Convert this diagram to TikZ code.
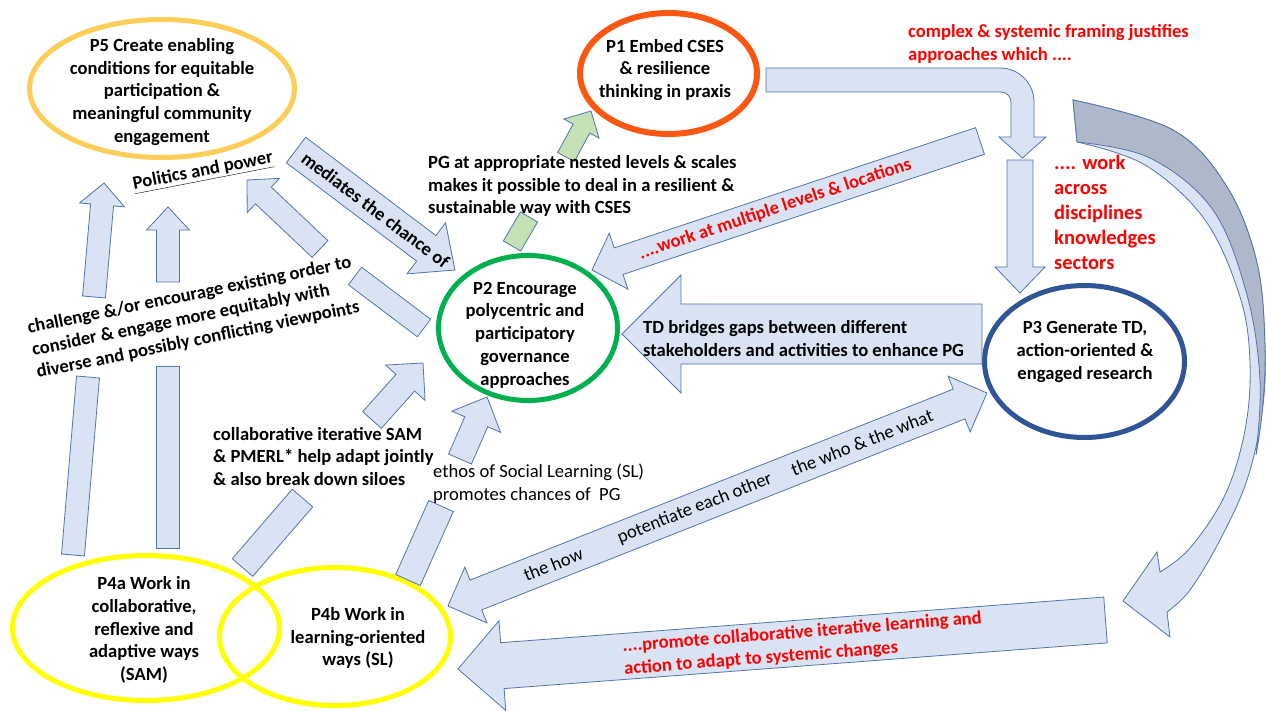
\documentclass[tikz,border=0pt]{standalone}
\usepackage{fontspec}
\setmainfont{Carlito}
\usetikzlibrary{calc,shapes.geometric}

\definecolor{arrowfill}{RGB}{218,227,243}
\definecolor{arrowline}{RGB}{84,116,172}
\definecolor{leafgreen}{RGB}{197,224,180}
\definecolor{slate}{RGB}{173,185,202}
\definecolor{pfive}{RGB}{252,206,88}
\definecolor{pone}{RGB}{250,88,18}
\definecolor{ptwo}{RGB}{0,176,80}
\definecolor{pthree}{RGB}{47,85,151}
\definecolor{pfour}{RGB}{255,255,0}
\definecolor{redtext}{RGB}{255,0,0}

% block arrow: [style]{start}{tip}{half body width}{half head width}{head length}
\newcommand\blockarrow[6][]{%
  \coordinate (bah) at ($(#3)!#6pt!(#2)$);
  \filldraw[blockshape,#1] ($(#2)!#4pt!90:(#3)$) -- ($(bah)!#4pt!90:(#3)$)
    -- ($(bah)!#5pt!90:(#3)$) -- (#3) -- ($(bah)!#5pt!-90:(#3)$)
    -- ($(bah)!#4pt!-90:(#3)$) -- ($(#2)!#4pt!-90:(#3)$) -- cycle;}
% plain bar piece of a broken block arrow: [style]{start}{end}{half width}
\newcommand\blockbar[4][]{%
  \filldraw[blockshape,#1] ($(#2)!#4pt!90:(#3)$) -- ($(#3)!#4pt!-90:(#2)$)
    -- ($(#3)!#4pt!90:(#2)$) -- ($(#2)!#4pt!-90:(#3)$) -- cycle;}

\begin{document}
\begin{tikzpicture}[x=1pt,y=-1pt,
  blockshape/.style={fill=arrowfill,draw=arrowline,line width=0.8pt,line join=miter},
  txt/.style={font=\fontsize{18.6}{22.7}\selectfont\bfseries,inner sep=0pt,align=center},
  plaintxt/.style={font=\fontsize{18.6}{22.7}\selectfont,inner sep=0pt,align=center},
  redtxt/.style={txt,text=redtext},
  ring/.style={ellipse,draw,inner sep=0pt,fill=none}]

\fill[white] (0,0) rectangle (1266,711);
\path[use as bounding box] (0,0) rectangle (1266,711);

% ---------- principle nodes ----------
\node[ring,draw=pfive,line width=5pt,minimum width=265,minimum height=138] (p5) at (162,88.5) {};
\node[ring,draw=pone,line width=6pt,minimum width=177,minimum height=121] (p1) at (668.5,73.5) {};
\node[ring,draw=ptwo,line width=5pt,minimum width=179,minimum height=145] (p2) at (528,328) {};
\node[ring,draw=pthree,line width=5pt,minimum width=200,minimum height=152] (p3) at (1084.5,361.5) {};
\node[ring,draw=pfour,line width=5pt,minimum width=267,minimum height=145] (p4a) at (146,628) {};
\node[ring,draw=pfour,line width=5pt,minimum width=231,minimum height=138] (p4b) at (335,636.5) {};

% ---------- arrow end points ----------
\coordinate (up1s) at (94,297);   \coordinate (up1t) at (104,183);
\coordinate (lo1s) at (73,555);   \coordinate (lo1t) at (88,377);
\coordinate (up2s) at (168,282);  \coordinate (up2t) at (168,207);
\coordinate (lo2s) at (168,548);  \coordinate (lo2t) at (168,366);
\coordinate (pols) at (320,249);  \coordinate (polt) at (247,180);
\coordinate (polbs) at (424,328); \coordinate (polbt) at (355,276);
\coordinate (meds) at (296,150);  \coordinate (medt) at (455,270);
\coordinate (grs) at (566,157);   \coordinate (grt) at (591,111);
\coordinate (grbs) at (512,246);  \coordinate (grbt) at (529,217);
\coordinate (dns) at (1020,160);  \coordinate (dnt) at (1020,293);
\coordinate (mls) at (980,141);   \coordinate (mlt) at (592,270);
\coordinate (tds) at (982,334);   \coordinate (tdt) at (622,334);
\coordinate (prs) at (1105.5,620);\coordinate (prt) at (458,669);
\coordinate (cos) at (372,420);   \coordinate (cot) at (423,363);
\coordinate (cobs) at (242.5,567.5); \coordinate (cobt) at (302.5,498);
\coordinate (ets) at (460,459);   \coordinate (ett) at (487,397);
\coordinate (etbs) at (408,580);  \coordinate (etbt) at (441,506);
\coordinate (howt) at (448,606);  \coordinate (whot) at (987,393);

% ---------- block arrows ----------
\blockarrow{up1s}{up1t}{11.5}{22.5}{22}
\blockbar{lo1s}{lo1t}{11.5}
\blockarrow{up2s}{up2t}{11.5}{21.5}{23}
\blockbar{lo2s}{lo2t}{11.5}
\blockarrow{pols}{polt}{11.5}{23.5}{22.5}
\blockbar{polbs}{polbt}{11}
\blockarrow{meds}{medt}{16}{32}{36}
\blockarrow[fill=leafgreen]{grs}{grt}{9.5}{20}{20}
\blockbar[fill=leafgreen]{grbs}{grbt}{10}
\blockarrow{dns}{dnt}{13}{25}{26}
\blockarrow{mls}{mlt}{14}{29.5}{28}
\blockarrow{tds}{tdt}{30}{59}{59}
\blockarrow{prs}{prt}{23}{45}{44.5}
\blockarrow{cos}{cot}{12.5}{26.5}{26.5}
\blockbar{cobs}{cobt}{13.5}
\blockarrow{ets}{ett}{12.5}{26.5}{27}
\blockbar{etbs}{etbt}{13.5}

% double-headed arrow between P4b and P3
\coordinate (hw1) at ($(howt)!30pt!(whot)$);
\coordinate (hw2) at ($(whot)!30pt!(howt)$);
\filldraw[blockshape] ($(hw1)!16pt!90:(whot)$) -- ($(hw2)!16pt!-90:(howt)$)
  -- ($(hw2)!30pt!-90:(howt)$) -- (whot) -- ($(hw2)!30pt!90:(howt)$)
  -- ($(hw2)!16pt!90:(howt)$) -- ($(hw1)!16pt!-90:(whot)$)
  -- ($(hw1)!30pt!-90:(whot)$) -- (howt) -- ($(hw1)!30pt!90:(whot)$) -- cycle;

% bent arrow from P1 down towards P3
\filldraw[blockshape] (766,68) -- (1000,68) .. controls (1018.8,68) and (1034,83.2) .. (1034,102)
  -- (1034,137) -- (1046,137) -- (1022.5,158) -- (999,137) -- (1011,137) -- (1011,102)
  .. controls (1011,96.5) and (1006.5,92) .. (1001,92) -- (766,92) -- cycle;

% large curved arrow on the right: front band with head, then shaded back band
\filldraw[blockshape] plot[smooth,tension=0.6] coordinates {(1073,100) (1173,130) (1227,187) (1257,263) (1265,347) (1262,413) (1247,480) (1220,540) (1190,590) (1167,612)}
  -- (1170,637) -- (1123,601) -- (1157,552)
  -- plot[smooth,tension=0.6] coordinates {(1160,572) (1190,548) (1225,495) (1245,430) (1250,363) (1240,297) (1205,220) (1145,165) (1077,142)} -- cycle;
\filldraw[blockshape,fill=slate] plot[smooth,tension=0.6] coordinates {(1073,100) (1173,130) (1227,187) (1257,263) (1265,347) (1262,413) (1256,455)}
  -- plot[smooth,tension=0.6] coordinates {(1256,455) (1260,380) (1247,295) (1213,210) (1150,158) (1077,142)} -- cycle;

% ---------- texts ----------
\node[txt] (p5text) at (162,92) {P5 Create enabling\\conditions for equitable\\participation \&\\meaningful community\\engagement};
\node[txt] (p1text) at (665,70) {P1 Embed CSES\\\& resilience\\thinking in praxis};
\node[txt] (p2text) at (525,335) {P2 Encourage\\polycentric and\\participatory\\governance\\approaches};
\node[txt] (p3text) at (1085,352) {P3 Generate TD,\\action-oriented \&\\engaged research};
\node[txt] (p4atext) at (144,630) {P4a Work in\\collaborative,\\reflexive and\\adaptive ways\\(SAM)};
\node[txt] (p4btext) at (358,638) {P4b Work in\\learning-oriented\\ways (SL)};

\node[txt,anchor=west,align=left] (pgnote) at (428,186) {PG at appropriate nested levels \& scales\\makes it possible to deal in a resilient \&\\sustainable way with CSES};
\node[redtxt,anchor=west,align=left] (framing) at (908,44) {complex \& systemic framing justifies\\approaches which ....};
\node[redtxt,anchor=west,align=left,font=\fontsize{20.5}{25}\selectfont\bfseries] (across) at (1054,212.5) {.... work\\across\\disciplines\\knowledges\\sectors};
\node[txt,align=left,rotate=11.5] (challenge) at (194,318) {challenge \&/or encourage existing order to\\consider \& engage more equitably with\\diverse and possibly conflicting viewpoints};
\node[txt,rotate=11] (politics) at (203,172) {\underline{Politics and power}};
\node[txt,anchor=west,align=left] (collab) at (213,456.5) {collaborative iterative SAM\\\& PMERL* help adapt jointly\\\& also break down siloes};
\node[plaintxt,anchor=west,align=left] (ethos) at (433,484) {ethos of Social Learning (SL)\\promotes chances of~ PG};
\node[txt,anchor=west,align=left] (tdnote) at (643,338.5) {TD bridges gaps between different\\stakeholders and activities to enhance PG};
\node[redtxt,align=left,rotate=4.5] (promote) at (803,644) {....promote collaborative iterative learning and\\action to adapt to systemic changes};

\path (meds) -- (medt) node[txt,pos=0.5,sloped] {mediates the chance of};
\path (mls) -- (mlt) node[redtxt,pos=0.528,sloped] {....work at multiple levels \& locations};
\path (howt) -- (whot)
  node[plaintxt,pos=0.195,sloped] {the how}
  node[plaintxt,pos=0.458,sloped] {potentiate each other}
  node[plaintxt,pos=0.768,sloped] {the who \& the what};
\end{tikzpicture}
\end{document}
